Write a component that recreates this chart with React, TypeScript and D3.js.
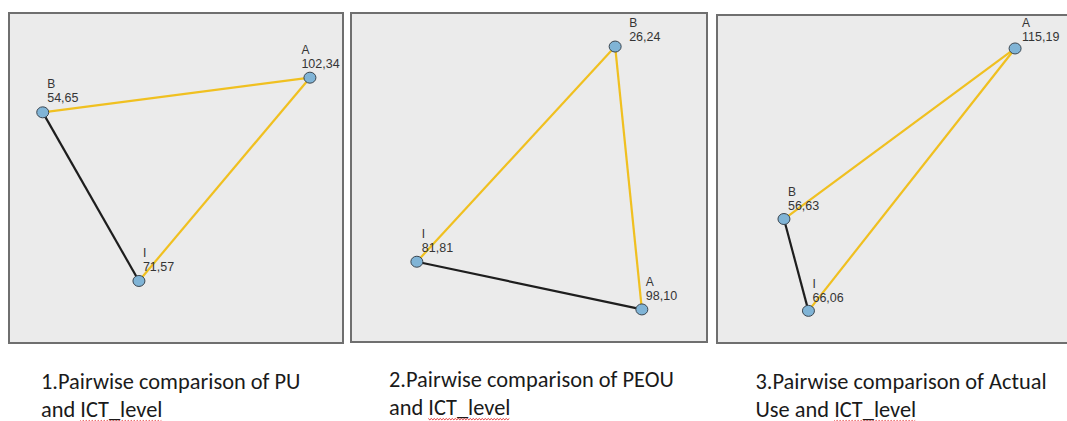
import React, { useEffect, useRef } from "react";
import * as d3 from "d3";

// ---- data ----
const p1Groups = ["A", "B", "I"];
const p1Ranks = [102.34, 54.65, 71.57];
const p1Sig = [["B", "A"], ["I", "A"]];
const p1NonSig = [["B", "I"]];

const p2Groups = ["B", "I", "A"];
const p2Ranks = [26.24, 81.81, 98.1];
const p2Sig = [["I", "B"], ["B", "A"]];
const p2NonSig = [["I", "A"]];

const p3Groups = ["A", "B", "I"];
const p3Ranks = [115.19, 56.63, 66.06];
const p3Sig = [["B", "A"], ["I", "A"]];
const p3NonSig = [["B", "I"]];

const captions = [
  ["1.Pairwise comparison of PU", "and ICT_level"],
  ["2.Pairwise comparison of PEOU", "and ICT_level"],
  ["3.Pairwise comparison of Actual", "Use and ICT_level"],
];

// ---- layout (node-graph positions, fractions of each panel) ----
const p1LayoutX = [0.901, 0.101, 0.389];
const p1LayoutY = [0.196, 0.301, 0.812];
const p2LayoutX = [0.742, 0.185, 0.817];
const p2LayoutY = [0.102, 0.756, 0.901];
const p3LayoutX = [0.828, 0.186, 0.254];
const p3LayoutY = [0.102, 0.622, 0.902];
const p1LabelDx = [-8.5, 4.5, 4];
const p1LabelDy = [-24, -24, -24];
const p2LabelDx = [14, 5, 4];
const p2LabelDy = [-20, -24, -23];
const p3LabelDx = [7, 4, 4];
const p3LabelDy = [-21, -23, -23];

const frames = [
  { x: 9, y: 13, w: 334, h: 330 },
  { x: 351, y: 13, w: 356, h: 329 },
  { x: 717, y: 15, w: 360, h: 328 },
];
const captionX = [41, 389, 755.5];
const captionY = [389, 387, 389];

const panels = [
  { groups: p1Groups, ranks: p1Ranks, sig: p1Sig, non: p1NonSig, lx: p1LayoutX, ly: p1LayoutY, ldx: p1LabelDx, ldy: p1LabelDy },
  { groups: p2Groups, ranks: p2Ranks, sig: p2Sig, non: p2NonSig, lx: p2LayoutX, ly: p2LayoutY, ldx: p2LabelDx, ldy: p2LabelDy },
  { groups: p3Groups, ranks: p3Ranks, sig: p3Sig, non: p3NonSig, lx: p3LayoutX, ly: p3LayoutY, ldx: p3LabelDx, ldy: p3LabelDy },
];

const fmt = (v: number) => d3.format(".2f")(v).replace(".", ",");

export default function App() {
  const ref = useRef<SVGSVGElement>(null);
  useEffect(() => {
    const svg = d3.select(ref.current);
    svg.selectAll("*").remove();
    panels.forEach((p, pi) => {
      const f = frames[pi];
      const g = svg.append("g");
      g.append("rect")
        .attr("x", f.x).attr("y", f.y).attr("width", f.w).attr("height", f.h)
        .attr("fill", "#ebebeb").attr("stroke", "#6f6f6f").attr("stroke-width", 2);
      const xs = d3.scaleLinear().domain([0, 1]).range([f.x, f.x + f.w]);
      const ys = d3.scaleLinear().domain([0, 1]).range([f.y, f.y + f.h]);
      const pos = (name: string) => {
        const i = p.groups.indexOf(name);
        return [xs(p.lx[i]), ys(p.ly[i])];
      };
      const drawEdges = (edges: string[][], color: string) => {
        edges.forEach(([a, b]) => {
          const [x1, y1] = pos(a);
          const [x2, y2] = pos(b);
          g.append("line")
            .attr("x1", x1).attr("y1", y1).attr("x2", x2).attr("y2", y2)
            .attr("stroke", color).attr("stroke-width", 2.2);
        });
      };
      drawEdges(p.non, "#1e1e1e");
      drawEdges(p.sig, "#f0c020");
      p.groups.forEach((name, i) => {
        const cx = xs(p.lx[i]);
        const cy = ys(p.ly[i]);
        g.append("ellipse")
          .attr("cx", cx).attr("cy", cy).attr("rx", 6).attr("ry", 5.5)
          .attr("fill", "#80b4d6").attr("stroke", "#3b4650").attr("stroke-width", 1);
        const tx = cx + p.ldx[i];
        const ty = cy + p.ldy[i];
        g.append("text")
          .attr("x", tx).attr("y", ty)
          .attr("font-family", "'Liberation Sans', Arial, sans-serif")
          .attr("font-size", 12).attr("fill", "#353535").text(name);
        g.append("text")
          .attr("x", tx).attr("y", ty + 14)
          .attr("font-family", "'Liberation Sans', Arial, sans-serif")
          .attr("font-size", 12.5).attr("fill", "#353535").text(fmt(p.ranks[i]));
      });
    });
    captions.forEach((lines, ci) => {
      lines.forEach((line, li) => {
        const t = svg.append("text")
          .attr("x", captionX[ci]).attr("y", captionY[ci] + li * 27.5)
          .attr("font-family", "Carlito, Lato, 'Open Sans', sans-serif")
          .attr("font-size", 22.4).attr("fill", "#1a1a1a")
          .text(line);
        const idx = line.indexOf("ICT_level");
        if (idx >= 0) {
          const node = t.node() as SVGTextElement;
          const start = captionX[ci] + node.getSubStringLength(0, idx);
          const len = node.getSubStringLength(idx, "ICT_level".length);
          const yb = captionY[ci] + li * 27.5 + 4;
          const pts: [number, number][] = [];
          for (let x = 0; x <= len; x += 1.5) {
            pts.push([start + x, yb + (Math.round(x / 1.5) % 2 === 0 ? 0 : 1.3)]);
          }
          svg.append("path")
            .attr("d", d3.line()(pts) as string)
            .attr("fill", "none").attr("stroke", "#e02020").attr("stroke-width", 0.9);
        }
      });
    });
  }, []);
  return (
    <svg ref={ref} width={1067} height={421} style={{ position: "absolute", left: 0, top: 0, background: "#fff" }} />
  );
}
